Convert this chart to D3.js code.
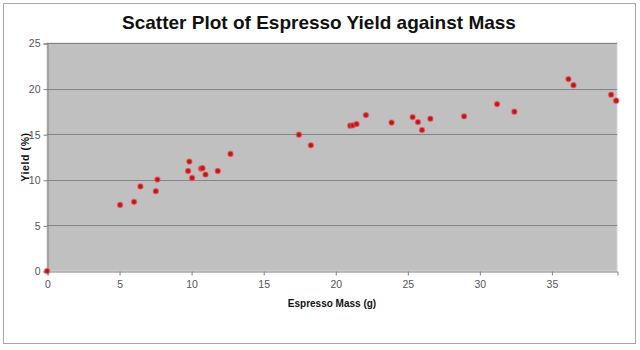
<!DOCTYPE html>
<html>
<head>
<meta charset="utf-8">
<script src="https://cdn.jsdelivr.net/npm/d3@7"></script>
<style>
  html, body { margin: 0; padding: 0; background: #ffffff; }
  svg { display: block; font-family: "Liberation Sans", Arial, sans-serif; }
</style>
</head>
<body>
<svg id="chart" width="640" height="350"></svg>
<script>
// Espresso shots: mass of espresso (g) and extraction yield (%)
const massG = [0, 5.07, 6.04, 6.48, 7.55, 7.66, 9.79, 9.88, 10.07, 10.69, 10.79, 11.0, 11.85, 12.73,
  17.48, 18.31, 21.04, 21.23, 21.48, 22.13, 23.91, 25.37, 25.74, 26.02, 26.6,
  28.94, 31.23, 32.43, 36.18, 36.53, 39.14, 39.49];
const yieldPct = [0, 7.25, 7.58, 9.27, 8.75, 10.03, 10.97, 12.0, 10.21, 11.23, 11.27, 10.58, 10.97, 12.84,
  14.95, 13.79, 15.94, 15.97, 16.12, 17.1, 16.27, 16.88, 16.34, 15.46, 16.7,
  16.96, 18.3, 17.47, 21.04, 20.38, 19.33, 18.68];
const xTicks = [0, 5, 10, 15, 20, 25, 30, 35];
const yTicks = [0, 5, 10, 15, 20, 25];

const titleText = "Scatter Plot of Espresso Yield against Mass";
const xTitle = "Espresso Mass (g)";
const yTitle = "Yield (%)";

const svg = d3.select("#chart");
const plot = { left: 47, right: 617, top: 43, bottom: 271 };

// outer chart border
svg.append("rect")
  .attr("x", 3.5).attr("y", 3.5).attr("width", 632).attr("height", 340)
  .attr("fill", "#ffffff").attr("stroke", "#a6a6a6").attr("stroke-width", 1);

const x = d3.scaleLinear().domain([0, 39.55]).range([plot.left, plot.right]);
const y = d3.scaleLinear().domain([0, 25]).range([plot.bottom, plot.top]);

// plot area
svg.append("rect")
  .attr("x", plot.left).attr("y", plot.top)
  .attr("width", plot.right - plot.left).attr("height", plot.bottom - plot.top)
  .attr("fill", "#c0c0c0").attr("stroke", "#d4d4d4").attr("stroke-width", 1);

// horizontal gridlines (top one doubles as the plot's upper edge)
svg.append("g")
  .selectAll("line")
  .data(yTicks.filter(d => d > 0))
  .join("line")
  .attr("x1", plot.left).attr("x2", plot.right)
  .attr("y1", d => Math.round(y(d)) + 0.5).attr("y2", d => Math.round(y(d)) + 0.5)
  .attr("stroke", "#858585").attr("stroke-width", 1);

// y axis
const yAxis = svg.append("g")
  .attr("transform", `translate(${plot.left + 0.5},0.5)`)
  .call(d3.axisLeft(y).tickValues(yTicks).tickSize(4).tickPadding(3).tickFormat(d3.format("d")));
yAxis.select(".domain").attr("stroke", "#808080");
yAxis.selectAll(".tick line").attr("stroke", "#808080");
yAxis.selectAll(".tick text")
  .attr("fill", "#555").attr("font-size", 10.5)
  .attr("font-family", "Liberation Sans, Arial, sans-serif");

// x axis
const xAxis = svg.append("g")
  .attr("transform", `translate(0.5,${plot.bottom + 0.5})`)
  .call(d3.axisBottom(x).tickValues(xTicks).tickSize(4).tickPadding(5).tickFormat(d3.format("d")));
xAxis.select(".domain").attr("stroke", "#808080");
xAxis.selectAll(".tick line").attr("stroke", "#808080");
xAxis.selectAll(".tick text")
  .attr("fill", "#555").attr("font-size", 10.5)
  .attr("font-family", "Liberation Sans, Arial, sans-serif");

// data points
svg.append("g")
  .selectAll("circle")
  .data(massG.map((m, i) => [m, yieldPct[i]]))
  .join("circle")
  .attr("cx", d => x(d[0]))
  .attr("cy", d => y(d[1]))
  .attr("r", 2.6)
  .attr("fill", "#c0141c")
  .attr("stroke", "rgba(235,90,90,0.55)")
  .attr("stroke-width", 1.4);

// titles
svg.append("text")
  .attr("x", 319).attr("y", 29)
  .attr("text-anchor", "middle")
  .attr("font-size", 19).attr("font-weight", "bold").attr("fill", "#111")
  .text(titleText);

svg.append("text")
  .attr("x", (plot.left + plot.right) / 2).attr("y", 307)
  .attr("text-anchor", "middle")
  .attr("font-size", 10).attr("font-weight", "bold").attr("fill", "#111")
  .text(xTitle);

svg.append("text")
  .attr("transform", `translate(29,157) rotate(-90)`)
  .attr("text-anchor", "middle")
  .attr("font-size", 10.5).attr("font-weight", "bold").attr("fill", "#111")
  .attr("letter-spacing", 0.6)
  .text(yTitle);
</script>
</body>
</html>
